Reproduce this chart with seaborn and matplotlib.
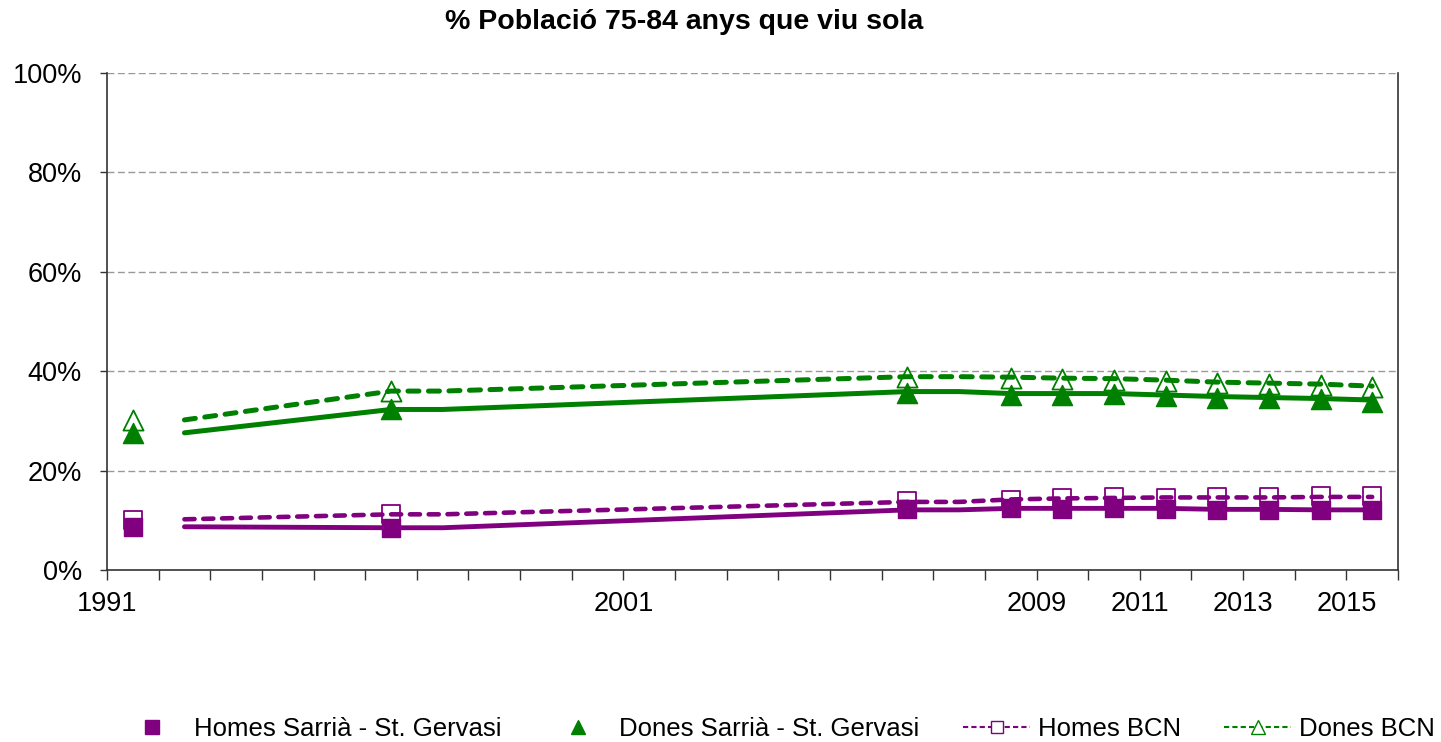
import numpy as np
import pandas as pd
import matplotlib
matplotlib.use("Agg")
import matplotlib.pyplot as plt
from matplotlib.lines import Line2D
import seaborn as sns

# marker series (years with a marker)
marker_years = [1991, 1996, 2006, 2008, 2009, 2010, 2011, 2012, 2013, 2014, 2015]
homes_sarria_pts = [8.7, 8.4, 12.2, 12.4, 12.3, 12.4, 12.3, 12.1, 12.1, 12.1, 12.1]
dones_sarria_pts = [27.5, 32.4, 35.7, 35.2, 35.2, 35.4, 35.0, 34.6, 34.6, 34.4, 33.8]
homes_bcn_pts = [10.1, 11.2, 13.8, 14.1, 14.4, 14.6, 14.5, 14.7, 14.7, 14.8, 14.8]
dones_bcn_pts = [30.2, 36.0, 38.8, 38.6, 38.5, 38.3, 38.0, 37.6, 37.4, 37.3, 36.8]

# line series (drawn separately in the original chart)
line_years = [1992, 1996, 1997, 2006, 2007, 2008, 2009, 2010, 2011, 2012, 2013, 2014, 2015]
homes_sarria_line = [8.7, 8.5, 8.5, 12.1, 12.1, 12.4, 12.4, 12.4, 12.4, 12.2, 12.2, 12.1, 12.1]
dones_sarria_line = [27.6, 32.3, 32.3, 35.9, 35.9, 35.5, 35.5, 35.5, 35.2, 34.9, 34.7, 34.5, 34.2]
homes_bcn_line = [10.2, 11.2, 11.2, 13.7, 13.7, 14.2, 14.4, 14.5, 14.6, 14.6, 14.6, 14.7, 14.7]
dones_bcn_line = [30.2, 36.0, 36.0, 38.9, 38.9, 38.8, 38.6, 38.5, 38.2, 37.8, 37.6, 37.4, 37.0]

first_year = 1991
n_years = 25
label_years = [1991, 2001, 2009, 2011, 2013, 2015]
y_ticks = [0, 20, 40, 60, 80, 100]

purple = "#800080"
green = "#008000"

sns.set_style("white")
plt.rcParams['font.family'] = ['Liberation Sans', 'DejaVu Sans']
plt.rcParams['font.size'] = 18.5
plt.rcParams['text.color'] = 'black'
plt.rcParams['xtick.color'] = 'black'
plt.rcParams['ytick.color'] = 'black'

fig = plt.figure(figsize=(14.41, 7.42), dpi=100)
ax = fig.add_axes([107 / 1441, 1 - 570 / 742, 1291 / 1441, 497 / 742])

mx = np.array(marker_years) - first_year + 0.5
lx = np.array(line_years) - first_year + 0.5

# markers (open first, then filled)
sns.scatterplot(x=mx, y=homes_bcn_pts, ax=ax, marker="s", s=160, color="white",
                edgecolor=purple, linewidth=1.3, zorder=3)
sns.scatterplot(x=mx, y=dones_bcn_pts, ax=ax, marker="^", s=210, color="white",
                edgecolor=green, linewidth=1.3, zorder=3)
sns.scatterplot(x=mx, y=homes_sarria_pts, ax=ax, marker="s", s=160, color=purple,
                edgecolor=purple, linewidth=1, zorder=4)
sns.scatterplot(x=mx, y=dones_sarria_pts, ax=ax, marker="^", s=210, color=green,
                edgecolor=green, linewidth=1, zorder=4)

# lines
dash = (0, (2.2, 1.9))
sns.lineplot(x=lx, y=homes_sarria_line, ax=ax, color=purple, linewidth=3.5, zorder=5)
sns.lineplot(x=lx, y=dones_sarria_line, ax=ax, color=green, linewidth=3.6, zorder=5)
sns.lineplot(x=lx, y=homes_bcn_line, ax=ax, color=purple, linewidth=3.3, linestyle=dash,
             dash_capstyle="round", zorder=5)
sns.lineplot(x=lx, y=dones_bcn_line, ax=ax, color=green, linewidth=3.6, linestyle=dash,
             dash_capstyle="round", zorder=5)

ax.set_xlim(0, n_years)
ax.set_ylim(0, 100)

ax.set_xticks(range(n_years + 1))
ax.set_xticklabels([str(first_year + i) if (first_year + i) in label_years else ""
                    for i in range(n_years + 1)])
ax.set_yticks(y_ticks)
ax.set_yticklabels([f"{v}%" for v in y_ticks])
ax.tick_params(axis="x", bottom=True, direction="out", length=7, width=1,
               color="#333333", pad=8, labelsize=19.5)
ax.tick_params(axis="y", left=True, direction="out", length=5, width=1,
               color="#333333", pad=13, labelsize=19.5)

for v in y_ticks[1:]:
    ax.axhline(v, color="#999999", linewidth=1, linestyle=(0, (5, 2.5)), zorder=1)

for side in ["left", "bottom", "right"]:
    ax.spines[side].set_color("#333333")
    ax.spines[side].set_linewidth(1.2)
ax.spines["top"].set_visible(False)

fig.text(0.475, 1 - 22 / 742, "% Població 75-84 anys que viu sola",
         ha="center", va="center", fontsize=20.5, fontweight="bold")

handles = [
    Line2D([], [], linestyle="none", marker="s", markersize=10, color=purple),
    Line2D([], [], linestyle="none", marker="^", markersize=10, color=green),
    Line2D([], [], linestyle=(0, (2.5, 1.5)), linewidth=1.5, color=purple, marker="s",
           markersize=9, markerfacecolor="white", markeredgecolor=purple),
    Line2D([], [], linestyle=(0, (2.5, 1.5)), linewidth=1.5, color=green, marker="^",
           markersize=10, markerfacecolor="white", markeredgecolor=green),
]
labels = ["Homes Sarrià - St. Gervasi", "Dones Sarrià - St. Gervasi", "Homes BCN", "Dones BCN"]
fig.legend(handles, labels, loc="center left", bbox_to_anchor=(119 / 1441, 1 - 729 / 742),
           ncol=4, frameon=False, handlelength=2.6, handletextpad=0.3,
           columnspacing=1.7, borderpad=0, borderaxespad=0, fontsize=18.5)

fig.savefig("out.png", dpi=100)
